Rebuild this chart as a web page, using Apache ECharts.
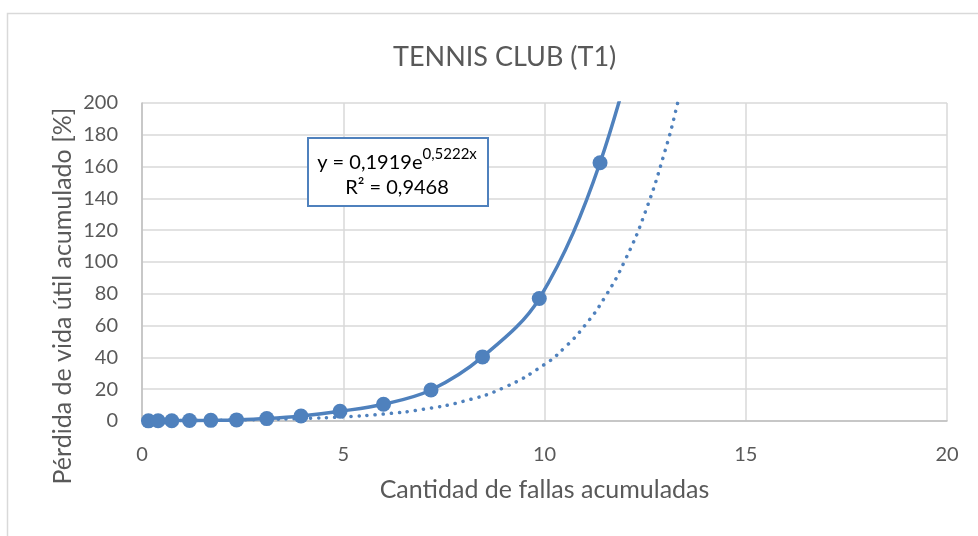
<!DOCTYPE html>
<html><head><meta charset="utf-8">
<script src="https://cdn.jsdelivr.net/npm/echarts@6/dist/echarts.min.js"></script>
<style>html,body{margin:0;padding:0;background:#fff}#c{width:978px;height:536px}</style>
</head><body><div id="c"></div>
<script>
// Data
const fallas = [0.16, 0.40, 0.74, 1.18, 1.71, 2.35, 3.10, 3.95, 4.92, 6.00, 7.18, 8.46, 9.87, 11.38, 12.90];
const perdida = [0.1, 0.15, 0.2, 0.3, 0.4, 0.7, 1.5, 3.1, 6.1, 10.5, 19.5, 40.3, 77.0, 162.4, 300];
const trendA = 0.1919;   // from the displayed equation y = 0,1919e^(0,5222x)
const trendB = 0.5222;
const trendX = [0.16, 1, 2, 3, 4, 5, 6, 7, 8, 9, 10, 10.5, 11, 11.5, 12, 12.5, 13, 13.3, 13.6];
const xTicks = [0, 5, 10, 15, 20];
const yTicks = [0, 200, 20];

const mainData = fallas.map((x, i) => [x, perdida[i]]);
const trendData = trendX.map(x => [x, trendA * Math.exp(trendB * x)]);

const chart = echarts.init(document.getElementById('c'), null, {renderer: 'canvas'});
const font = 'Lato, "Open Sans", sans-serif';
const grey = '#595959';
chart.setOption({
  animation: false,
  backgroundColor: '#fff',
  title: {
    text: 'TENNIS CLUB (T1)', left: 388, top: 39,
    textStyle: {fontFamily: font, fontSize: 27, fontWeight: 'normal', color: grey}
  },
  grid: {left: 142, right: 31, top: 103, bottom: 115},
  xAxis: {
    type: 'value', min: xTicks[0], max: xTicks[xTicks.length - 1], interval: xTicks[1] - xTicks[0],
    name: 'Cantidad de fallas acumuladas', nameLocation: 'middle', nameGap: 56,
    nameTextStyle: {fontFamily: font, fontSize: 25, color: grey},
    axisLine: {show: true, lineStyle: {color: '#bfbfbf', width: 1.5}},
    axisTick: {show: false},
    axisLabel: {fontFamily: font, fontSize: 20, color: grey, margin: 24},
    splitLine: {show: true, lineStyle: {color: '#d9d9d9', width: 1.5}}
  },
  yAxis: {
    type: 'value', min: yTicks[0], max: yTicks[1], interval: yTicks[2],
    axisLine: {show: true, lineStyle: {color: '#bfbfbf', width: 1.5}},
    axisTick: {show: false},
    axisLabel: {fontFamily: font, fontSize: 20, color: grey, margin: 24},
    splitLine: {show: true, lineStyle: {color: '#d9d9d9', width: 1.5}}
  },
  series: [
    {
      type: 'line', data: trendData, smooth: true, showSymbol: false, clip: true, z: 1,
      lineStyle: {color: '#4f81bd', width: 3.5, type: [0.1, 8], cap: 'round'}
    },
    {
      type: 'line', data: mainData, smooth: 0.35, clip: true, z: 2,
      symbol: 'circle', symbolSize: 15,
      itemStyle: {color: '#4f81bd'},
      lineStyle: {color: '#4f81bd', width: 3.5}
    }
  ],
  graphic: [
    {type: 'rect', left: 5, top: 11, shape: {width: 1000, height: 600},
     style: {fill: 'none', stroke: '#d9d9d9', lineWidth: 1.5}, z: -1},
    {type: 'text', x: 63, y: 296, rotation: Math.PI / 2, z: 5,
     style: {text: 'Pérdida de vida útil acumulado [%]', font: '25px ' + font, fill: grey,
             align: 'center', verticalAlign: 'middle'}},
    {type: 'rect', left: 307, top: 137, shape: {width: 180, height: 68},
     style: {fill: '#fff', stroke: '#4f81bd', lineWidth: 2}, z: 10},
    {type: 'text', x: 397, y: 147, z: 11,
     style: {text: '{a|y = 0,1919e}{s|0,5222x}', align: 'center', rich: {
       a: {fontFamily: font, fontSize: 20, fill: '#000', lineHeight: 26, verticalAlign: 'bottom'},
       s: {fontFamily: font, fontSize: 15, fill: '#000', lineHeight: 26, verticalAlign: 'top'}
     }}},
    {type: 'text', x: 397, y: 178, z: 11,
     style: {text: 'R² = 0,9468', font: '20px ' + font, fill: '#000', align: 'center'}}
  ]
});
</script></body></html>
